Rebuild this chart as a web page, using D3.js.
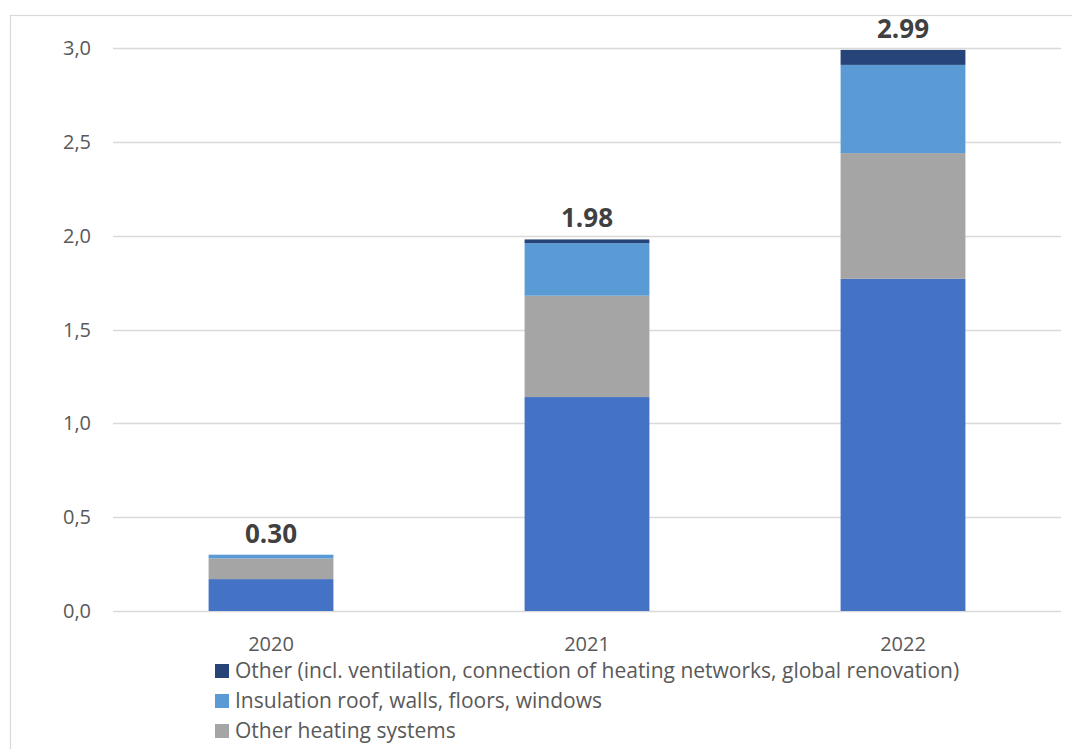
<!DOCTYPE html>
<html>
<head>
<meta charset="utf-8">
<script src="https://cdn.jsdelivr.net/npm/d3@7"></script>
<style>
  html, body { margin: 0; padding: 0; background: #fff; overflow: hidden; }
  svg { display: block; }
  text { font-family: "Open Sans", Lato, sans-serif; }
</style>
</head>
<body>
<svg id="chart" width="1072" height="749"></svg>
<script>
// Years on the category axis
const years = ["2020", "2021", "2022"];

// Stack series, bottom to top (billions)
const heatPumps      = [0.17, 1.14, 1.77];
const otherHeating   = [0.11, 0.54, 0.67];
const insulation     = [0.02, 0.28, 0.47];
const otherMeasures  = [0.00, 0.02, 0.08];

const seriesNames = [
  "Heat pumps",
  "Other heating systems",
  "Insulation roof, walls, floors, windows",
  "Other (incl. ventilation, connection of heating networks, global renovation)"
];
const seriesColors = ["#4472C4", "#A5A5A5", "#5B9BD5", "#264478"];

// Y axis ticks
const yTicks = [0, 0.5, 1.0, 1.5, 2.0, 2.5, 3.0];

const seriesValues = [heatPumps, otherHeating, insulation, otherMeasures];
const keys = seriesNames;
const rows = years.map((y, i) => {
  const r = { year: y };
  keys.forEach((k, j) => { r[k] = seriesValues[j][i]; });
  return r;
});
const totals = years.map((y, i) => d3.sum(seriesValues, s => s[i]));

const svg = d3.select("#chart");

// Outer chart frame
svg.append("rect")
  .attr("x", 10.5).attr("y", 15.5)
  .attr("width", 1100).attr("height", 800)
  .attr("fill", "none").attr("stroke", "#d9d9d9").attr("stroke-width", 1.2);

const plot = { left: 113, right: 1061, top: 48, bottom: 611 };

const x = d3.scaleBand()
  .domain(years)
  .range([plot.left, plot.right])
  .paddingInner(0.605)
  .paddingOuter(0.3025);

const y = d3.scaleLinear()
  .domain([0, 3.0])
  .range([plot.bottom, plot.top]);

// Gridlines
svg.append("g")
  .selectAll("line")
  .data(yTicks)
  .join("line")
  .attr("x1", plot.left).attr("x2", plot.right)
  .attr("y1", d => Math.round(y(d)) + 0.5)
  .attr("y2", d => Math.round(y(d)) + 0.5)
  .attr("stroke", "#d9d9d9").attr("stroke-width", 1.5);

// Y axis labels
const fmt = d => d.toFixed(1).replace(".", ",");
const yAxis = d3.axisLeft(y).tickValues(yTicks).tickFormat(fmt).tickSize(0).tickPadding(0);
const yg = svg.append("g").attr("transform", `translate(91,0)`).call(yAxis);
yg.select(".domain").remove();
yg.selectAll("text")
  .attr("fill", "#595959")
  .style("font-family", "'Open Sans', sans-serif")
  .style("font-size", "20px")
  .attr("dy", "0.33em");

// Stacked bars
const stack = d3.stack().keys(keys);
const stacked = stack(rows);

svg.append("g")
  .selectAll("g")
  .data(stacked)
  .join("g")
  .attr("fill", (d, i) => seriesColors[i])
  .selectAll("rect")
  .data(d => d)
  .join("rect")
  .attr("x", d => x(d.data.year))
  .attr("width", x.bandwidth())
  .attr("y", d => y(d[1]))
  .attr("height", d => Math.max(0, y(d[0]) - y(d[1])));

// Total labels
svg.append("g")
  .selectAll("text")
  .data(years)
  .join("text")
  .attr("x", d => x(d) + x.bandwidth() / 2)
  .attr("y", (d, i) => y(totals[i]) - 12)
  .attr("text-anchor", "middle")
  .attr("fill", "#404040")
  .style("font-family", "'Open Sans', sans-serif")
  .style("font-size", "26px")
  .style("font-weight", "bold")
  .text((d, i) => totals[i].toFixed(2));

// X axis labels
const xAxis = d3.axisBottom(x).tickSize(0).tickPadding(0);
const xg = svg.append("g").attr("transform", `translate(0,${plot.bottom})`).call(xAxis);
xg.select(".domain").remove();
xg.selectAll("text")
  .attr("fill", "#595959")
  .style("font-family", "'Open Sans', sans-serif")
  .style("font-size", "20px")
  .attr("y", 40)
  .attr("dy", 0);

// Legend, top series first; only the rows that fit above the bottom edge
const legendOrder = d3.range(keys.length).reverse().slice(0, 3);
const legend = svg.append("g")
  .selectAll("g")
  .data(legendOrder)
  .join("g")
  .attr("transform", (d, i) => `translate(215,${664 + i * 30})`);

legend.append("rect")
  .attr("width", 14).attr("height", 14)
  .attr("fill", d => seriesColors[d]);

legend.append("text")
  .attr("x", 20).attr("y", 14)
  .attr("fill", "#595959")
  .style("font-family", "'Open Sans', sans-serif")
  .style("font-size", "21px")
  .text(d => keys[d]);
</script>
</body>
</html>
